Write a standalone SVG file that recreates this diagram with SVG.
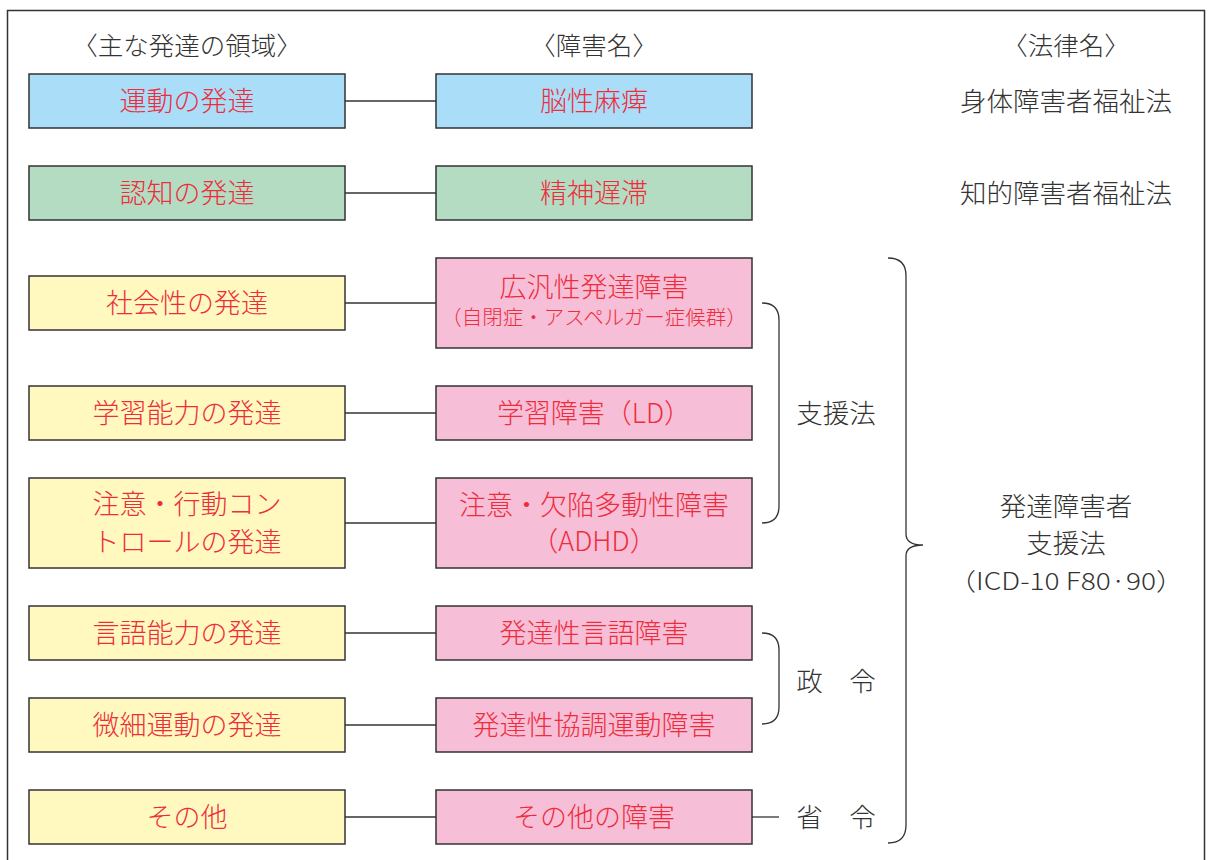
<svg xmlns="http://www.w3.org/2000/svg" width="1213" height="860" viewBox="0 0 1213 860">
<style>
text{font-family:"Noto Sans CJK JP","Noto Sans",sans-serif;text-anchor:middle;dominant-baseline:central;font-weight:300}
.box{stroke:#333;stroke-width:1.5}
.blue{fill:#a9ddf8}.green{fill:#b3dcc3}.yellow{fill:#fff9c0}.pink{fill:#f6bed7}
.red{fill:#ee2d3c;font-size:27px}
.sm{fill:#ee2d3c;font-size:20.5px}
.blk{fill:#333;font-size:26.5px}
.icd{fill:#333;font-size:24px}
.hdr{fill:#333;font-size:25.5px}
.ln{stroke:#333;stroke-width:1.3;fill:none}
</style>
<rect x="7.5" y="10.5" width="1197" height="870" fill="#fff" stroke="#333" stroke-width="1.5"/>
<g id="headers">
<text class="hdr" x="187" y="43">〈主な発達の領域〉</text>
<text class="hdr" x="594" y="43">〈障害名〉</text>
<text class="hdr" x="1066" y="43">〈法律名〉</text>
</g>
<g id="connectors">
<line class="ln" x1="345" y1="101" x2="436" y2="101"/>
<line class="ln" x1="345" y1="193" x2="436" y2="193"/>
<line class="ln" x1="345" y1="303" x2="436" y2="303"/>
<line class="ln" x1="345" y1="413" x2="436" y2="413"/>
<line class="ln" x1="345" y1="523" x2="436" y2="523"/>
<line class="ln" x1="345" y1="633" x2="436" y2="633"/>
<line class="ln" x1="345" y1="725" x2="436" y2="725"/>
<line class="ln" x1="345" y1="817" x2="436" y2="817"/>
<line class="ln" x1="752" y1="817" x2="779" y2="817"/>
<path class="ln" d="M762 303 Q779 303 779 320 L779 506 Q779 523 762 523"/>
<path class="ln" d="M762 633 Q779 633 779 650 L779 707 Q779 724 762 724"/>
<path class="ln" d="M888 258 Q906 258 906 276 L906 534 Q906 545 923 545 Q906 545 906 556 L906 825 Q906 843 888 843"/>
</g>
<g id="d1"><rect class="box blue" x="29" y="74" width="316" height="54"/><text class="red" x="187" y="99">運動の発達</text></g>
<g id="h1"><rect class="box blue" x="436" y="74" width="316" height="54"/><text class="red" x="594" y="99">脳性麻痺</text></g>
<g id="l1"><text class="blk" x="1066" y="99">身体障害者福祉法</text></g>
<g id="d2"><rect class="box green" x="29" y="166" width="316" height="54"/><text class="red" x="187" y="191">認知の発達</text></g>
<g id="h2"><rect class="box green" x="436" y="166" width="316" height="54"/><text class="red" x="594" y="191">精神遅滞</text></g>
<g id="l2"><text class="blk" x="1066" y="191">知的障害者福祉法</text></g>
<g id="d3"><rect class="box yellow" x="29" y="276" width="316" height="54"/><text class="red" x="187" y="301">社会性の発達</text></g>
<g id="h3"><rect class="box pink" x="436" y="258" width="316" height="90"/><text class="red" x="594" y="285">広汎性発達障害</text><text class="sm" x="594" y="316">（自閉症・アスペルガー症候群）</text></g>
<g id="d4"><rect class="box yellow" x="29" y="386" width="316" height="54"/><text class="red" x="187" y="411">学習能力の発達</text></g>
<g id="h4"><rect class="box pink" x="436" y="386" width="316" height="54"/><text class="red" x="594" y="411">学習障害（LD）</text></g>
<g id="d5"><rect class="box yellow" x="29" y="478" width="316" height="90"/><text class="red" x="187" y="502">注意・行動コン</text><text class="red" x="187" y="540">トロールの発達</text></g>
<g id="h5"><rect class="box pink" x="436" y="478" width="316" height="90"/><text class="red" x="594" y="503">注意・欠陥多動性障害</text><text class="red" x="594" y="539">（ADHD）</text></g>
<g id="d6"><rect class="box yellow" x="29" y="606" width="316" height="54"/><text class="red" x="187" y="631">言語能力の発達</text></g>
<g id="h6"><rect class="box pink" x="436" y="606" width="316" height="54"/><text class="red" x="594" y="631">発達性言語障害</text></g>
<g id="d7"><rect class="box yellow" x="29" y="698" width="316" height="54"/><text class="red" x="187" y="723">微細運動の発達</text></g>
<g id="h7"><rect class="box pink" x="436" y="698" width="316" height="54"/><text class="red" x="594" y="723">発達性協調運動障害</text></g>
<g id="d8"><rect class="box yellow" x="29" y="790" width="316" height="54"/><text class="red" x="187" y="815">その他</text></g>
<g id="h8"><rect class="box pink" x="436" y="790" width="316" height="54"/><text class="red" x="594" y="815">その他の障害</text></g>
<g id="l3"><text class="blk" x="836" y="411">支援法</text></g>
<g id="l4"><text class="blk" x="836" y="679">政　令</text></g>
<g id="l5"><text class="blk" x="836" y="815">省　令</text></g>
<g id="l6"><text class="blk" x="1066" y="504">発達障害者</text><text class="blk" x="1066" y="541">支援法</text><text class="icd" x="1066" y="579" textLength="236" lengthAdjust="spacingAndGlyphs">（ICD-10 F80·90）</text></g>
</svg>
